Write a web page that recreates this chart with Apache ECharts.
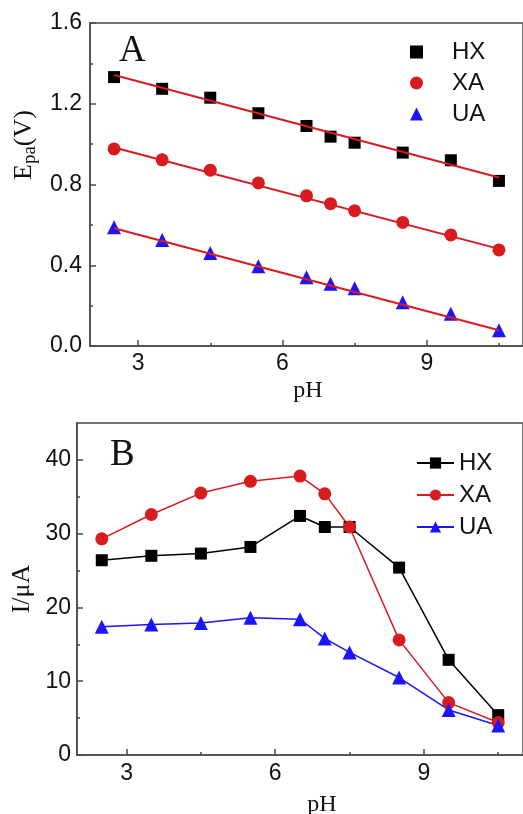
<!DOCTYPE html>
<html><head><meta charset="utf-8">
<script src="https://cdn.jsdelivr.net/npm/echarts@6/dist/echarts.min.js"></script>
<style>html,body{margin:0;padding:0;background:#fff}#c{width:523px;height:814px}</style>
</head><body><div id="c"></div>
<script>
// ---- data ----
const pH = [2.5, 3.5, 4.5, 5.5, 6.5, 7.0, 7.5, 8.5, 9.5, 10.5];
const epaHX = [1.332, 1.274, 1.230, 1.153, 1.090, 1.037, 1.007, 0.958, 0.920, 0.818];
const epaXA = [0.976, 0.922, 0.871, 0.808, 0.744, 0.705, 0.670, 0.612, 0.550, 0.476];
const epaUA = [0.588, 0.525, 0.461, 0.395, 0.341, 0.308, 0.286, 0.217, 0.160, 0.078];
const fitPH = [2.5, 10.5];
const fitHX = [1.342, 0.835];
const fitXA = [0.983, 0.481];
const fitUA = [0.583, 0.078];
const curHX = [26.4, 27.0, 27.3, 28.2, 32.4, 30.9, 30.9, 25.4, 12.9, 5.4];
const curXA = [29.3, 32.6, 35.5, 37.1, 37.8, 35.4, 30.9, 15.6, 7.1, 4.4];
const curUA = [17.4, 17.7, 17.9, 18.6, 18.4, 15.8, 13.9, 10.5, 6.1, 4.0];
const xTicks = [3, 6, 9];
const xMinorTicks = [4.5, 7.5, 10.5];
const eTicks = [0, 0.4, 0.8, 1.2, 1.6];
const eMinorTicks = [0.2, 0.6, 1.0, 1.4];
const iTicks = [0, 10, 20, 30, 40];
const iMinorTicks = [5, 15, 25, 35];
const names = ['HX', 'XA', 'UA'];

// ---- styles ----
const SANS = '"Liberation Sans", Arial, sans-serif';
const SERIF = '"Liberation Serif", "Times New Roman", serif';
const AX = '#4a4a4a';
const BLACK = '#000000', RED = '#d81b1f', BLUE = '#1c14ff';
const pairs = (xs, ys) => xs.map((x, i) => [x, ys[i]]);

function xMain(gi, margin) {
  return { type: 'value', gridIndex: gi, min: 2, max: 11, position: 'bottom',
    axisLine: { lineStyle: { color: AX, width: 1.5 } },
    axisTick: { inside: true, length: 6, customValues: xTicks, lineStyle: { color: AX, width: 1.5 } },
    axisLabel: { customValues: xTicks, color: '#111', fontSize: 23, fontFamily: SANS, margin: margin },
    splitLine: { show: false } };
}
function xMinor(gi) {
  return { type: 'value', gridIndex: gi, min: 2, max: 11, position: 'bottom',
    axisLine: { show: false }, axisLabel: { show: false },
    axisTick: { inside: true, length: 3, customValues: xMinorTicks, lineStyle: { color: AX, width: 1.5 } },
    splitLine: { show: false } };
}
function yMain(gi, min, max, ticks, fmt, margin) {
  return { type: 'value', gridIndex: gi, min: min, max: max, position: 'left',
    axisLine: { show: true, lineStyle: { color: AX, width: 1.5 } },
    axisTick: { show: true, inside: true, length: 6, customValues: ticks, lineStyle: { color: AX, width: 1.5 } },
    axisLabel: { customValues: ticks, color: '#111', fontSize: 23, fontFamily: SANS, margin: margin, formatter: fmt },
    splitLine: { show: false } };
}
function yMinor(gi, min, max, ticks) {
  return { type: 'value', gridIndex: gi, min: min, max: max, position: 'left',
    axisLine: { show: false }, axisLabel: { show: false },
    axisTick: { show: true, inside: true, length: 3, customValues: ticks, lineStyle: { color: AX, width: 1.5 } },
    splitLine: { show: false } };
}

const chart = echarts.init(document.getElementById('c'), null, { renderer: 'canvas' });
chart.setOption({
  animation: false,
  backgroundColor: '#ffffff',
  grid: [
    { left: 90, top: 23, width: 434, height: 323, show: true, borderColor: AX, borderWidth: 1.5, backgroundColor: 'transparent' },
    { left: 77, top: 423, width: 447, height: 332, show: true, borderColor: AX, borderWidth: 1.5, backgroundColor: 'transparent' }
  ],
  xAxis: [xMain(0, 6), xMinor(0), xMain(1, 7), xMinor(1)],
  yAxis: [
    yMain(0, 0, 1.6, eTicks, v => v.toFixed(1), 8), yMinor(0, 0, 1.6, eMinorTicks),
    yMain(1, 0, 45, iTicks, v => String(v), 6), yMinor(1, 0, 45, iMinorTicks)
  ],
  legend: [
    { data: names, orient: 'vertical', left: 410, top: 40, padding: 0, itemWidth: 13, itemHeight: 13, itemGap: 7,
      selectedMode: false,
      textStyle: { fontSize: 24, fontFamily: SANS, color: '#111', lineHeight: 24, padding: [0, 0, 0, 24] } },
    { data: names.map(n => n + ' '), orient: 'vertical', left: 416, top: 451, padding: 0, itemWidth: 37, itemHeight: 14, itemGap: 8,
      selectedMode: false, formatter: n => n.trim(),
      textStyle: { fontSize: 24, fontFamily: SANS, color: '#111', lineHeight: 24 } }
  ],
  series: [
    { name: 'HX', type: 'scatter', xAxisIndex: 0, yAxisIndex: 0, symbol: 'rect', symbolSize: 12, itemStyle: { color: BLACK, opacity: 1 }, data: pairs(pH, epaHX), z: 2 },
    { name: 'XA', type: 'scatter', xAxisIndex: 0, yAxisIndex: 0, symbol: 'circle', symbolSize: 13, itemStyle: { color: RED, opacity: 1 }, data: pairs(pH, epaXA), z: 2 },
    { name: 'UA', type: 'scatter', xAxisIndex: 0, yAxisIndex: 0, symbol: 'triangle', symbolSize: 14, itemStyle: { color: BLUE, opacity: 1 }, data: pairs(pH, epaUA), z: 2 },
    { name: 'fitHX', type: 'line', xAxisIndex: 0, yAxisIndex: 0, symbol: 'none', lineStyle: { color: RED, width: 2 }, data: pairs(fitPH, fitHX), z: 3 },
    { name: 'fitXA', type: 'line', xAxisIndex: 0, yAxisIndex: 0, symbol: 'none', lineStyle: { color: RED, width: 2 }, data: pairs(fitPH, fitXA), z: 3 },
    { name: 'fitUA', type: 'line', xAxisIndex: 0, yAxisIndex: 0, symbol: 'none', lineStyle: { color: RED, width: 2 }, data: pairs(fitPH, fitUA), z: 3 },
    { name: 'HX ', type: 'line', xAxisIndex: 2, yAxisIndex: 2, symbol: 'rect', symbolSize: 12, lineStyle: { color: BLACK, width: 1.5 }, itemStyle: { color: BLACK, opacity: 1 }, data: pairs(pH, curHX) },
    { name: 'XA ', type: 'line', xAxisIndex: 2, yAxisIndex: 2, symbol: 'circle', symbolSize: 13, lineStyle: { color: RED, width: 1.5 }, itemStyle: { color: RED, opacity: 1 }, data: pairs(pH, curXA) },
    { name: 'UA ', type: 'line', xAxisIndex: 2, yAxisIndex: 2, symbol: 'triangle', symbolSize: 14, lineStyle: { color: BLUE, width: 1.5 }, itemStyle: { color: BLUE, opacity: 1 }, data: pairs(pH, curUA) }
  ],
  graphic: [
    { type: 'text', x: 119, y: 51, style: { text: 'A', font: '37px ' + SERIF, fill: '#111', verticalAlign: 'middle' } },
    { type: 'text', x: 110, y: 455, style: { text: 'B', font: '37px ' + SERIF, fill: '#111', verticalAlign: 'middle' } },
    { type: 'text', x: 308, y: 391, style: { text: 'pH', font: '24px ' + SERIF, fill: '#111', align: 'center', verticalAlign: 'middle' } },
    { type: 'text', x: 322, y: 805, style: { text: 'pH', font: '24px ' + SERIF, fill: '#111', align: 'center', verticalAlign: 'middle' } },
    { type: 'text', x: 22, y: 589, rotation: Math.PI / 2, style: { text: 'I/μA', font: '26px ' + SERIF, fill: '#111', align: 'center', verticalAlign: 'middle' } },
    { type: 'text', x: 24, y: 145, rotation: Math.PI / 2,
      style: { text: '{e|E}{s|pa}{e|(V)}', fill: '#111', align: 'center', verticalAlign: 'middle',
        rich: { e: { font: '26px ' + SERIF, fill: '#111', lineHeight: 28 },
                s: { font: '19px ' + SERIF, fill: '#111', lineHeight: 20, padding: [12, 0, 0, 0] } } } }
  ]
});
</script></body></html>
